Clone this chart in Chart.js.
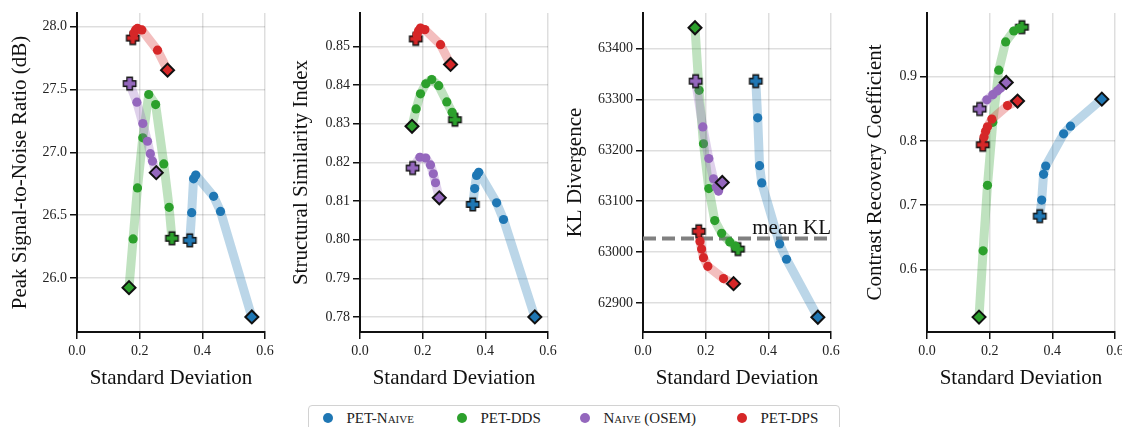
<!DOCTYPE html>
<html>
<head>
<meta charset="utf-8">
<script src="https://cdn.jsdelivr.net/npm/chart.js@4.4.1/dist/chart.umd.min.js"></script>
<style>
  html, body { margin: 0; padding: 0; background: #fff; }
  body { width: 1122px; height: 427px; position: relative; overflow: hidden; font-family: "Liberation Serif", serif; }
  .panel { position: absolute; top: 0; }
  .legend-box { position: absolute; left: 308px; top: 405px; width: 530px; height: 40px; border: 1.5px solid #d2d2d2; border-radius: 4px; }
  .legend-item { position: absolute; top: 408px; height: 20px; display: flex; align-items: center; font-size: 15px; color: #222; white-space: nowrap; }
  .legend-item .dot { width: 10px; height: 10px; border-radius: 50%; margin-right: 13.5px; }
  .sc { font-variant: small-caps; }
</style>
</head>
<body>
<canvas id="psnr-chart" class="panel" width="292" height="395" style="left:-13px"></canvas>
<canvas id="ssim-chart" class="panel" width="292" height="395" style="left:270px"></canvas>
<canvas id="kl-chart" class="panel" width="292" height="395" style="left:553px"></canvas>
<canvas id="crc-chart" class="panel" width="292" height="395" style="left:837px"></canvas>

<div class="legend-box"></div>
<div class="legend-item" style="left:323px"><span class="dot" style="background:#1f77b4"></span><span>PET-<span class="sc">Naive</span></span></div>
<div class="legend-item" style="left:457px"><span class="dot" style="background:#2ca02c"></span><span>PET-DDS</span></div>
<div class="legend-item" style="left:580px"><span class="dot" style="background:#9467bd"></span><span class="sc">Naive (OSEM)</span></div>
<div class="legend-item" style="left:737px"><span class="dot" style="background:#d62728"></span><span>PET-DPS</span></div>

<script>
// x axis ticks (shared)
const xTicks = [0.0, 0.2, 0.4, 0.6]

// y axis ticks per panel
const psnrTicks = [26.0, 26.5, 27.0, 27.5, 28.0]
const ssimTicks = [0.78, 0.79, 0.80, 0.81, 0.82, 0.83, 0.84, 0.85]
const klTicks = [62900, 63000, 63100, 63200, 63300, 63400]
const crcTicks = [0.6, 0.7, 0.8, 0.9]

// standard deviation of each method (first point = start marker, last = end marker)
const naiveStd = [0.360, 0.366, 0.372, 0.379, 0.436, 0.458, 0.558]
const ddsStd = [0.303, 0.294, 0.277, 0.251, 0.229, 0.210, 0.193, 0.179, 0.166]
const osemStd = [0.168, 0.191, 0.210, 0.225, 0.234, 0.241, 0.253]
const dpsStd = [0.178, 0.182, 0.187, 0.193, 0.207, 0.257, 0.289]

// Peak Signal-to-Noise Ratio (dB)
const naivePsnr = [26.30, 26.52, 26.79, 26.82, 26.65, 26.53, 25.69]
const ddsPsnr = [26.316, 26.563, 26.908, 27.381, 27.461, 27.116, 26.717, 26.311, 25.923]
const osemPsnr = [27.548, 27.40, 27.23, 27.089, 26.99, 26.93, 26.839]
const dpsPsnr = [27.91, 27.95, 27.975, 27.987, 27.975, 27.814, 27.655]

// Structural Similarity Index
const naiveSsim = [0.8091, 0.8132, 0.8166, 0.8174, 0.8095, 0.8052, 0.7800]
const ddsSsim = [0.8310, 0.8329, 0.8356, 0.8398, 0.8414, 0.8403, 0.8377, 0.8338, 0.8293]
const osemSsim = [0.8185, 0.8213, 0.8211, 0.8193, 0.8170, 0.8147, 0.8108]
const dpsSsim = [0.8519, 0.8530, 0.8540, 0.8547, 0.8543, 0.8504, 0.8453]

// KL Divergence
const naiveKl = [63336, 63264, 63170, 63136, 63016, 62986, 62872]
const ddsKl = [63006, 63012, 63020, 63037, 63062, 63125, 63213, 63318, 63441]
const osemKl = [63336, 63246, 63184, 63144, 63128, 63120, 63137]
const dpsKl = [63041, 63021, 63006, 62989, 62972, 62948, 62938]
const meanKl = 63027

// Contrast Recovery Coefficient
const naiveCrc = [0.683, 0.708, 0.748, 0.761, 0.811, 0.823, 0.865]
const ddsCrc = [0.977, 0.975, 0.971, 0.954, 0.910, 0.829, 0.731, 0.629, 0.526]
const osemCrc = [0.8496, 0.864, 0.872, 0.878, 0.882, 0.885, 0.891]
const dpsCrc = [0.794, 0.806, 0.815, 0.822, 0.834, 0.855, 0.862]

const FONT = "'Liberation Serif', 'DejaVu Serif', serif"
const GRID = "rgba(0, 0, 0, 0.13)"

const methods = [
  { name: "PET-Naive", rgb: "31, 119, 180", std: naiveStd, order: 4 },
  { name: "PET-DDS", rgb: "44, 160, 44", std: ddsStd, order: 3 },
  { name: "Naive (OSEM)", rgb: "148, 103, 189", std: osemStd, order: 2 },
  { name: "PET-DPS", rgb: "214, 39, 40", std: dpsStd, order: 1 },
]

const panels = [
  { id: "psnr-chart", title: "Peak Signal-to-Noise Ratio (dB)", values: [naivePsnr, ddsPsnr, osemPsnr, dpsPsnr],
    min: 25.57, max: 28.11, ticks: psnrTicks, decimals: 1, titlePad: 20.5 },
  { id: "ssim-chart", title: "Structural Similarity Index", values: [naiveSsim, ddsSsim, osemSsim, dpsSsim],
    min: 0.7761, max: 0.8586, ticks: ssimTicks, decimals: 2, titlePad: 19 },
  { id: "kl-chart", title: "KL Divergence", values: [naiveKl, ddsKl, osemKl, dpsKl],
    min: 62843, max: 63470, ticks: klTicks, decimals: 0, titlePad: 9.5, meanLine: meanKl },
  { id: "crc-chart", title: "Contrast Recovery Coefficient", values: [naiveCrc, ddsCrc, osemCrc, dpsCrc],
    min: 0.5028, max: 0.999, ticks: crcTicks, decimals: 1, titlePad: 25.5 },
]

// filled plus marker with black edge (start of each sweep)
function plusMarker(color) {
  const s = 17, c = s / 2, a = 5.6, t = 2.1
  const cv = document.createElement("canvas")
  cv.width = s
  cv.height = s
  const ctx = cv.getContext("2d")
  ctx.beginPath()
  ctx.moveTo(c - t, c - a)
  ctx.lineTo(c + t, c - a)
  ctx.lineTo(c + t, c - t)
  ctx.lineTo(c + a, c - t)
  ctx.lineTo(c + a, c + t)
  ctx.lineTo(c + t, c + t)
  ctx.lineTo(c + t, c + a)
  ctx.lineTo(c - t, c + a)
  ctx.lineTo(c - t, c + t)
  ctx.lineTo(c - a, c + t)
  ctx.lineTo(c - a, c - t)
  ctx.lineTo(c - t, c - t)
  ctx.closePath()
  ctx.lineWidth = 2.6
  ctx.strokeStyle = "#111"
  ctx.lineJoin = "miter"
  ctx.stroke()
  ctx.fillStyle = color
  ctx.fill()
  return cv
}

function methodDataset(method, values) {
  const color = `rgb(${method.rgb})`
  const n = values.length
  const plus = plusMarker(color)
  return {
    label: method.name,
    data: values.map((v, i) => ({ x: method.std[i], y: v })),
    showLine: true,
    borderColor: `rgba(${method.rgb}, 0.3)`,
    borderWidth: 9,
    borderCapStyle: "round",
    borderJoinStyle: "round",
    tension: 0,
    pointStyle: values.map((v, i) => (i === 0 ? plus : i === n - 1 ? "rectRot" : "circle")),
    pointRadius: values.map((v, i) => (i === n - 1 ? 6.5 : 4.6)),
    pointBackgroundColor: color,
    pointBorderColor: values.map((v, i) => (i === n - 1 ? "#111" : color)),
    pointBorderWidth: values.map((v, i) => (i === n - 1 ? 2 : 0)),
    clip: false,
    order: method.order,
  }
}

// text label for the mean KL line
const meanLabelPlugin = {
  id: "meanLabel",
  afterDatasetsDraw(chart) {
    const value = chart.options.plugins.meanLabel.value
    if (value === undefined) return
    const ctx = chart.ctx
    ctx.save()
    ctx.font = `21px ${FONT}`
    ctx.fillStyle = "#111"
    ctx.textAlign = "right"
    ctx.textBaseline = "alphabetic"
    ctx.fillText("mean KL", chart.scales.x.getPixelForValue(0.6), chart.scales.y.getPixelForValue(value) - 4)
    ctx.restore()
  },
}

panels.forEach((panel) => {
  const datasets = methods.map((m, k) => methodDataset(m, panel.values[k]))

  if (panel.meanLine !== undefined) {
    datasets.push({
      label: "mean KL",
      data: [{ x: 0, y: panel.meanLine }, { x: 0.6, y: panel.meanLine }],
      showLine: true,
      borderColor: "#808080",
      borderWidth: 4,
      borderDash: [13, 6],
      pointRadius: 0,
      order: 10,
    })
  }

  new Chart(document.getElementById(panel.id), {
    type: "scatter",
    data: { datasets: datasets },
    plugins: [meanLabelPlugin],
    options: {
      responsive: false,
      animation: false,
      events: [],
      layout: { padding: { top: 13, right: 14, left: 0, bottom: 0 } },
      plugins: {
        legend: { display: false },
        tooltip: { enabled: false },
        meanLabel: { value: panel.meanLine },
      },
      scales: {
        x: {
          type: "linear",
          min: 0,
          max: 0.6,
          afterFit: (scale) => {
            scale.height = 63
          },
          afterBuildTicks: (scale) => {
            scale.ticks = xTicks.map((v) => ({ value: v }))
          },
          ticks: {
            callback: (value) => value.toFixed(1),
            font: { family: FONT, size: 14 },
            color: "#222",
            padding: 4,
            maxRotation: 0,
            autoSkip: false,
          },
          grid: { color: GRID, lineWidth: 1.5, tickColor: "#111", tickLength: 7, tickWidth: 1.5 },
          border: { color: "#111", width: 2 },
          title: {
            display: true,
            text: "Standard Deviation",
            font: { family: FONT, size: 21 },
            color: "#111",
            padding: { top: 0, bottom: 4 },
          },
        },
        y: {
          type: "linear",
          min: panel.min,
          max: panel.max,
          afterFit: (scale) => {
            scale.width = 90
          },
          afterBuildTicks: (scale) => {
            scale.ticks = panel.ticks.map((v) => ({ value: v }))
          },
          ticks: {
            callback: (value) => value.toFixed(panel.decimals),
            font: { family: FONT, size: 14 },
            color: "#222",
            padding: 3,
            autoSkip: false,
          },
          grid: { color: GRID, lineWidth: 1.5, tickColor: "#111", tickLength: 7, tickWidth: 1.5 },
          border: { color: "#111", width: 2 },
          title: {
            display: true,
            text: panel.title,
            font: { family: FONT, size: 21 },
            color: "#111",
            padding: { top: panel.titlePad, bottom: 0 },
          },
        },
      },
    },
  })
})
</script>
</body>
</html>
